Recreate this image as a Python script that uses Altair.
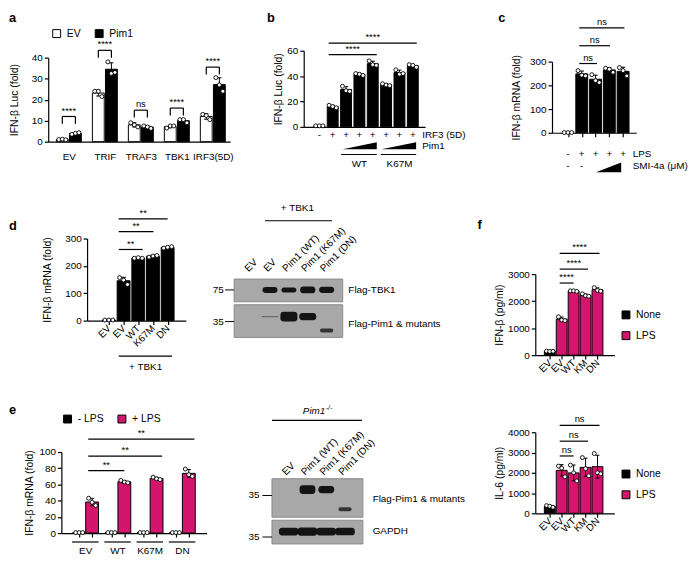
import altair as alt
import pandas as pd

FONT = "Liberation Sans"
PINK = "#d4156e"
W, H = 688, 553
M = 8
JIT = 0.27

# ---------------- data ----------------
a_groups = ["EV", "TRIF", "TRAF3", "TBK1", "IRF3(5D)"]
a_series = ["EV", "Pim1"]
a_ev = [[1.0, 1.2, 0.9], [24.0, 24.0, 21.5], [9.0, 8.0, 7.0], [6.5, 7.5, 7.5], [13.0, 12.5, 10.5]]
a_pim1 = [[3.5, 4.0, 4.3], [38.0, 32.5, 33.0], [7.5, 7.0, 6.3], [10.5, 10.5, 9.0], [30.5, 27.0, 24.0]]
a_sig = ["****", "****", "ns", "****", "****"]
a_sig_y = [12, 43.5, 15, 16, 35.5]

b_irf3 = ["-", "+", "+", "+", "+", "+", "+", "+"]
b_vals = [[0.8, 0.8, 0.8], [17, 16, 15], [32, 28.5, 28], [42, 41.5, 40.5], [52, 49, 48.5],
          [34, 33, 32.5], [45, 41.5, 42], [49, 48.5, 47]]
b_pim1 = ["WT", "K67M"]
b_sig_y = [66, 57]

c_lps = ["-", "+", "+", "+", "+"]
c_smi = ["-", "-"]
c_vals = [[1, 1, 1], [262, 243, 240], [245, 220, 212], [272, 268, 255], [275, 262, 240]]
c_sig_y = [292, 367, 442]

d_labels = ["EV", "EV", "WT", "K67M", "DN"]
d_vals = [[2, 2, 2], [157, 148, 132], [228, 230, 228], [232, 236, 238], [265, 268, 270]]
d_sig_y = [260, 325, 372]

bd_lanes = ["EV", "EV", "Pim1 (WT)", "Pim1 (K67M)", "Pim1 (DN)"]
bd_tbk1 = [0.0, 1.0, 0.85, 1.15, 1.05]
bd_pim1 = [0.0, 0.15, 1.0, 0.75, 0.0]
bd_dn = [0.0, 0.0, 0.0, 0.0, 0.45]

e_groups = ["EV", "WT", "K67M", "DN"]
e_series = ["- LPS", "+ LPS"]
e_neg = [[0.6, 0.6, 0.6], [0.6, 0.6, 0.6], [0.6, 0.6, 0.6], [0.6, 0.6, 0.6]]
e_pos = [[43, 38, 34], [65, 63, 62], [69, 67, 66], [79, 72, 70]]
e_sig_y = [77, 95, 116]

be_lanes = ["EV", "Pim1 (WT)", "Pim1 (K67M)", "Pim1 (DN)"]
be_pim1 = [0.0, 1.0, 0.8, 0.0]
be_dn = [0.0, 0.0, 0.0, 0.45]
be_gapdh = [1.0, 1.05, 1.0, 0.95]

f_labels = ["EV", "EV", "WT", "KM", "DN"]
f_series = ["None", "LPS"]
f_treat = ["None", "LPS", "LPS", "LPS", "LPS"]
f_ifn = [[150, 140, 145], [1420, 1300, 1280], [2380, 2380, 2360], [2270, 2200, 2180], [2500, 2400, 2370]]
f_il6 = [[380, 350, 300], [2330, 2230, 1800], [2380, 2000, 1600], [2750, 2200, 1850], [2950, 2000, 1950]]
f_ifn_sig_y = [2670, 3185, 3770]
f_il6_sig_y = [2830, 3560, 4340]

one = pd.DataFrame({"k": [0]})


# ---------------- helpers ----------------
def lin(d0, d1, p0, p1):
    return alt.Scale(domain=[d0, d1], range=[p0 - M, p1 - M], nice=False, zero=False)


AX = dict(domainColor="black", domainWidth=1.2, tickColor="black", tickWidth=1.2,
          labelColor="black", titleColor="black", labelFont=FONT, titleFont=FONT,
          labelFontSize=10, titleFontSize=10.5, titleFontWeight="normal", grid=False,
          labelOverlap=False, labelFlush=False)


def y_axis(px, values, title, pad):
    return alt.Axis(orient="left", offset=-(px - M), values=values, title=title,
                    titlePadding=pad, tickSize=4, labelPadding=2, format="d", **AX)


def x_axis(py, values=None, labels=None, v0=0, step=1, angle=0, tick=4, pad=2):
    kw = dict(orient="bottom", title=None, offset=(py - M) - H, **AX)
    if values is not None:
        kw["values"] = list(values)
    if tick > 0:
        kw.update(ticks=True, tickSize=tick)
    else:
        kw.update(ticks=False, tickSize=0)
    if labels is None:
        kw["labels"] = False
    else:
        arr = "[" + ",".join("'%s'" % s for s in labels) + "]"
        kw["labelExpr"] = f"{arr}[round((datum.value - {v0}) / {step})]"
        kw["labelPadding"] = pad
        if angle:
            kw.update(labelAngle=angle, labelAlign="right", labelBaseline="middle")
    return alt.Axis(**kw)


def legend(x, y, direction="vertical"):
    return alt.Legend(orient="none", legendX=x - M, legendY=y - M, direction=direction,
                      title=None, symbolType="square", symbolSize=64,
                      symbolStrokeColor="black", symbolStrokeWidth=1,
                      labelFontSize=10.5, labelFont=FONT, labelColor="black",
                      rowPadding=8, columnPadding=12, labelOffset=5)


class P:
    """One panel: its own x/y scales and the axes every layer of it shares."""
    def __init__(self, sx, sy, xax=None, yax=None):
        self.sx, self.sy, self.xax, self.yax = sx, sy, xax, yax

    def X(self, f):
        return alt.X(f, scale=self.sx, axis=self.xax)

    def Y(self, f, **kw):
        return alt.Y(f, scale=self.sy, axis=self.yax, **kw)


def make(pos, reps, grp=None):
    rows, prow, caps = [], [], []
    for i, (p, r) in enumerate(zip(pos, reps)):
        s = pd.Series(r, dtype=float)
        m, sd = s.mean(), s.std()
        rows.append({"pos": p, "mean": m, "lo": m - sd, "hi": m + sd,
                     "grp": grp[i] if grp else "all"})
        for e in (m - sd, m + sd):
            caps.append({"x1": p - 0.16, "x2": p + 0.16, "y": e})
        for k, v in enumerate(r):
            prow.append({"x": p + (k - 1) * JIT, "v": v})
    return pd.DataFrame(rows), pd.DataFrame(prow), pd.DataFrame(caps)


def bar_panel(p, pos, reps, bw, grp=None, fill=None):
    bars, pts, caps = make(list(pos), reps, grp)
    enc = dict(x=p.X("pos:Q"), y=p.Y("mean:Q", stack=None), y2=alt.datum(0))
    if fill is not None:
        enc["fill"] = fill
    return [
        alt.Chart(bars).mark_bar(width=bw, fill="black", stroke="black", strokeWidth=1).encode(**enc),
        alt.Chart(bars).mark_rule(color="black", strokeWidth=1).encode(
            x=p.X("pos:Q"), y=p.Y("lo:Q"), y2="hi:Q"),
        alt.Chart(caps).mark_rule(color="black", strokeWidth=1).encode(
            x=p.X("x1:Q"), x2="x2:Q", y=p.Y("y:Q")),
        alt.Chart(pts).mark_point(shape="circle", filled=True, fill="white", stroke="black",
                                  strokeWidth=0.9, size=16, opacity=1).encode(
            x=p.X("x:Q"), y=p.Y("v:Q")),
    ]


def rules(df, p, w=1.2, color="black"):
    enc = dict(x=p.X("x1:Q"), y=p.Y("y1:Q"))
    if "x2" in df.columns:
        enc["x2"] = "x2:Q"
    if "y2" in df.columns:
        enc["y2"] = "y2:Q"
    return alt.Chart(df).mark_rule(color=color, strokeWidth=w).encode(**enc)


def texts(df, p, size=10, **mk):
    return alt.Chart(df).mark_text(fontSize=size, color="black", **mk).encode(
        x=p.X("x:Q"), y=p.Y("y:Q"), text="t:N")


def sig(x1, x2, y, t, p, leg=0):
    df = pd.DataFrame({"x1": x1, "x2": x2, "y1": y})
    out = [rules(df, p)]
    if leg:
        legs = pd.DataFrame({"x1": list(x1) + list(x2), "y1": list(y) * 2,
                             "y2": [v - leg for v in y] * 2})
        out.append(rules(legs, p))
    tdf = pd.DataFrame({"x": [(a + b) / 2 for a, b in zip(x1, x2)], "y": y, "t": t})
    out.append(texts(tdf, p, 9.5, baseline="bottom", dy=-1))
    return out


def wedges(spans, yb, yt, p):
    rows = []
    for g, (a, b) in enumerate(spans):
        rows += [{"x": a, "y": yb, "y2": yb, "g": g}, {"x": b, "y": yt, "y2": yb, "g": g}]
    return alt.Chart(pd.DataFrame(rows)).mark_area(color="black").encode(
        x=p.X("x:Q"), y=p.Y("y:Q"), y2="y2:Q", detail="g:N")


def bands(lanes_sig, center, thick, half, p, min_t=1.5):
    rows = []
    for i, s in enumerate(lanes_sig):
        if s <= 0:
            continue
        t = max(min_t, thick * s)
        rows.append({"x1": i - half, "x2": i + half, "y1": center - t / 2, "y2": center + t / 2,
                     "op": min(1.0, 0.25 + 1.2 * s)})
    return alt.Chart(pd.DataFrame(rows)).mark_rect(cornerRadius=3, color="#141414").encode(
        x=p.X("x1:Q"), x2="x2:Q", y=p.Y("y1:Q"), y2="y2:Q",
        opacity=alt.Opacity("op:Q", scale=None))


def frames(x1, x2, ys, p):
    df = pd.DataFrame({"x1": [x1] * len(ys), "x2": [x2] * len(ys),
                       "y1": [a for a, b in ys], "y2": [b for a, b in ys]})
    return alt.Chart(df).mark_rect(color="#a8a8a8", stroke="#8a8a8a", strokeWidth=1).encode(
        x=p.X("x1:Q"), x2="x2:Q", y=p.Y("y1:Q"), y2="y2:Q")


def letter(t, x, y):
    return alt.Chart(one).mark_text(text=t, fontSize=13, fontWeight="bold", align="left",
                                    baseline="top", color="black").encode(
        x=alt.value(x - M), y=alt.value(y - M))


# ---------------- panel a ----------------
A = P(lin(-0.7, 12.45, 48.7, 232.8), lin(0, 40, 140, 55),
      x_axis(140, [0.5 + 2.75 * i for i in range(5)], a_groups, 0.5, 2.75, tick=0, pad=10),
      y_axis(48.7, [0, 10, 20, 30, 40], "IFN-β Luc (fold)", 12))
a_x1 = [i * 2.75 for i in range(5)]
a_x2 = [i * 2.75 + 1 for i in range(5)]
fill_a = alt.Fill("grp:N", scale=alt.Scale(domain=a_series, range=["white", "black"]),
                  legend=legend(52, 25, "horizontal"))
pa = bar_panel(A, a_x1 + a_x2, a_ev + a_pim1, 12, ["EV"] * 5 + ["Pim1"] * 5, fill_a)
pa += sig(a_x1, a_x2, a_sig_y, a_sig, A, leg=3.5)

# ---------------- panel b ----------------
B = P(lin(-0.8, 7.55, 307.2, 430), lin(0, 60, 125, 48),
      x_axis(125, tick=0), y_axis(307.2, [0, 20, 40, 60], "IFN-β Luc (fold)", 3))
b_pos = list(range(8))
pb = bar_panel(B, b_pos, b_vals, 11)
pb += sig([0.7, 0.7], [7.3, 4.3], b_sig_y, ["****", "****"], B)
pb.append(texts(pd.DataFrame({"x": b_pos, "y": [-6.2] * 8, "t": b_irf3}), B))
pb.append(texts(pd.DataFrame({"x": [7.7, 7.7], "y": [-6.2, -15.2], "t": ["IRF3 (5D)", "Pim1"]}),
                B, align="left"))
pb.append(wedges([(1.75, 4.3), (4.65, 7.25)], -17.7, -12.2, B))
pb.append(rules(pd.DataFrame({"x1": [1.63, 4.6], "x2": [4.3, 7.25], "y1": [-21.8, -21.8]}), B, 1))
pb.append(texts(pd.DataFrame({"x": [3, 6], "y": [-29.6, -29.6], "t": b_pim1}), B))

# ---------------- panel c ----------------
C = P(lin(-0.8, 4.6, 558.4, 643.7), lin(0, 300, 131, 59),
      x_axis(131, range(5)), y_axis(558.4, [0, 100, 200, 300], "IFN-β mRNA (fold)", 8))
pc = bar_panel(C, range(5), c_vals, 12)
pc += sig([0.82] * 3, [2.1, 3.05, 4.1], c_sig_y, ["ns"] * 3, C)
pc.append(texts(pd.DataFrame({"x": list(range(5)), "y": [-87.5] * 5, "t": c_lps}), C))
pc.append(texts(pd.DataFrame({"x": [0, 1], "y": [-141.7] * 2, "t": c_smi}), C))
pc.append(texts(pd.DataFrame({"x": [4.7, 4.7], "y": [-87.5, -141.7], "t": ["LPS", "SMI-4a (μM)"]}),
                C, align="left"))
pc.append(wedges([(2.03, 3.86)], -166.7, -125, C))

# ---------------- panel d ----------------
D = P(lin(-1.15, 4.9, 88, 187.9), lin(0, 300, 321, 238),
      x_axis(321, range(5), d_labels, 0, 1, angle=-45),
      y_axis(88, [0, 100, 200, 300], "IFN-β mRNA (fold)", 12))
pdd = bar_panel(D, range(5), d_vals, 13)
pdd += sig([0.67] * 3, [2.3, 3.03, 4.0], d_sig_y, ["**"] * 3, D)
pdd.append(rules(pd.DataFrame({"x1": [0.67], "x2": [4.3], "y1": [-130]}), D, 1.2))
pdd.append(texts(pd.DataFrame({"x": [2.5], "y": [-170], "t": ["+ TBK1"]}), D))

# ---------------- blot d ----------------
BD = P(lin(0, 4, 254, 330.4), lin(0, 100, 345, 245))
pbd = [
    frames(-0.9, 4.85, [(43, 66), (7, 40)], BD),
    bands(bd_tbk1, 55, 6, 0.4, BD),
    bands(bd_pim1, 28, 10, 0.45, BD),
    bands(bd_dn, 14, 9, 0.35, BD),
    rules(pd.DataFrame({"x1": [-1.38, -1.38], "x2": [-0.9, -0.9], "y1": [55, 23]}), BD, 1),
    texts(pd.DataFrame({"x": [-1.45, -1.45], "y": [55, 23], "t": ["75", "35"]}), BD,
          align="right", baseline="middle"),
    texts(pd.DataFrame({"x": [5.15, 5.15], "y": [55, 20], "t": ["Flag-TBK1", "Flag-Pim1 & mutants"]}),
          BD, align="left", baseline="middle"),
    texts(pd.DataFrame({"x": [i - 0.25 for i in range(5)], "y": [75] * 5, "t": bd_lanes}),
          BD, angle=315, align="left", baseline="middle"),
    rules(pd.DataFrame({"x1": [0.73], "x2": [4.29], "y1": [125]}), BD, 1.2),
    texts(pd.DataFrame({"x": [2.45], "y": [138], "t": ["+ TBK1"]}), BD, baseline="middle"),
]

# ---------------- panel e ----------------
E = P(lin(-1.0, 9.5, 62, 209), lin(0, 100, 536, 454), None,
      y_axis(62, [0, 20, 40, 60, 80, 100], "IFN-β mRNA (fold)", 5))
e_xpos, e_reps, e_grp = [], [], []
for g in range(4):
    e_xpos += [g * 2.5, g * 2.5 + 1]
    e_reps += [e_neg[g], e_pos[g]]
    e_grp += e_series
E.xax = x_axis(536, e_xpos)
fill_e = alt.Fill("grp:N", scale=alt.Scale(domain=e_series, range=["black", PINK]),
                  legend=legend(63, 415, "horizontal"))
pe = bar_panel(E, e_xpos, e_reps, 13, e_grp, fill_e)
pe += sig([0.7] * 3, [3.5, 6.43, 8.93], e_sig_y, ["**"] * 3, E)
pe.append(rules(pd.DataFrame({"x1": [g * 2.5 - 0.55 for g in range(4)],
                              "x2": [g * 2.5 + 1.5 for g in range(4)],
                              "y1": [-11] * 4}), E, 1.2))
pe.append(texts(pd.DataFrame({"x": [g * 2.5 + 0.5 for g in range(4)], "y": [-22] * 4, "t": e_groups}),
                E, baseline="middle"))

# ---------------- blot e ----------------
BE = P(lin(0, 3, 292, 349), lin(0, 100, 550, 450))
pbe = [
    frames(-0.89, 3.95, [(30, 69), (3, 27)], BE),
    bands(be_pim1, 58, 9, 0.42, BE),
    bands(be_dn, 38, 9, 0.35, BE),
    bands(be_gapdh, 15.5, 8, 0.52, BE),
    rules(pd.DataFrame({"x1": [-1.4, -1.4], "x2": [-0.89, -0.89], "y1": [52, 10]}), BE, 1),
    texts(pd.DataFrame({"x": [-1.55, -1.55], "y": [52, 10], "t": ["35", "35"]}), BE,
          align="right", baseline="middle"),
    texts(pd.DataFrame({"x": [4.47, 4.47], "y": [48, 16], "t": ["Flag-Pim1 & mutants", "GAPDH"]}),
          BE, align="left", baseline="middle"),
    texts(pd.DataFrame({"x": [i - 0.25 for i in range(4)], "y": [74] * 4, "t": be_lanes}),
          BE, angle=315, align="left", baseline="middle"),
    rules(pd.DataFrame({"x1": [-0.89], "x2": [3.9], "y1": [128]}), BE, 1.2),
    texts(pd.DataFrame({"x": [1.95], "y": [137], "t": ["Pim1"]}), BE,
          align="right", baseline="middle", fontStyle="italic"),
    texts(pd.DataFrame({"x": [1.97], "y": [137], "t": ["-/-"]}), BE, 7,
          align="left", baseline="middle", dy=-4, fontStyle="italic"),
]

# ---------------- panel f ----------------
sx_f = lin(-0.8, 5.0, 541.5, 621.5)
F1 = P(sx_f, lin(0, 3000, 356, 274), x_axis(356, range(5), f_labels, 0, 1, angle=-45),
       y_axis(541.5, [0, 1000, 2000, 3000], "IFN-β (pg/ml)", 3))
F2 = P(sx_f, lin(0, 4000, 516, 434), x_axis(516, range(5), f_labels, 0, 1, angle=-45),
       y_axis(541.5, [0, 1000, 2000, 3000, 4000], "IL-6 (pg/ml)", 3))
fill_f1 = alt.Fill("grp:N", scale=alt.Scale(domain=f_series, range=["black", PINK]),
                   legend=legend(628, 310))
fill_f2 = alt.Fill("grp:N", scale=alt.Scale(domain=f_series, range=["black", PINK]),
                   legend=legend(628, 471))
pf1 = bar_panel(F1, range(5), f_ifn, 11, f_treat, fill_f1)
pf1 += sig([0.83] * 3, [2.0, 3.2, 4.17], f_ifn_sig_y, ["****"] * 3, F1)
pf2 = bar_panel(F2, range(5), f_il6, 11, f_treat, fill_f2)
pf2 += sig([0.83] * 3, [2.0, 3.2, 4.17], f_il6_sig_y, ["ns"] * 3, F2)

panels = [alt.layer(*p) for p in (pa, pb, pc, pdd, pbd, pe, pbe, pf1, pf2)]
letters = [letter("a", 9, 9), letter("b", 270, 9), letter("c", 504, 9),
           letter("d", 9, 219), letter("e", 9, 406), letter("f", 483, 218)]

chart = (
    alt.layer(*panels, *letters)
    .resolve_scale(x="independent", y="independent", fill="independent")
    .resolve_axis(x="independent", y="independent")
    .resolve_legend(fill="independent")
    .properties(width=W, height=H, padding=0, autosize=alt.AutoSizeParams(type="none"))
    .configure(font=FONT)
    .configure_view(stroke=None)
)

chart.save("out.html", embed_options={"renderer": "svg", "actions": False})
